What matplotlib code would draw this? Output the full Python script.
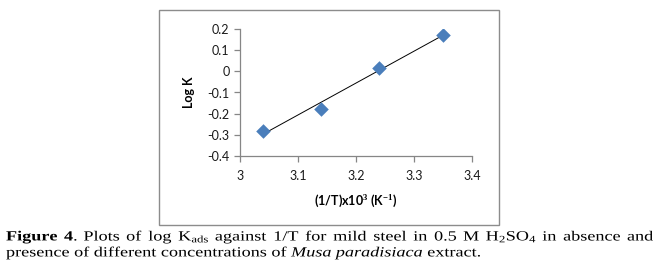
import matplotlib
matplotlib.use('Agg')
import matplotlib.pyplot as plt
from matplotlib.patches import Rectangle, PathPatch
from matplotlib.textpath import TextPath
from matplotlib.font_manager import FontProperties
from matplotlib.transforms import Affine2D
import numpy as np

# data
inv_temp = [3.04, 3.14, 3.24, 3.35]
log_k = [-0.28, -0.177, 0.018, 0.172]
x_ticks = [3.0, 3.1, 3.2, 3.3, 3.4]
y_ticks = [0.2, 0.1, 0.0, -0.1, -0.2, -0.3, -0.4]
y_tick_labels = ['0.2', '0.1', '0', '-0.1', '-0.2', '-0.3', '-0.4']
x_tick_labels = ['3', '3.1', '3.2', '3.3', '3.4']

caption_line1 = [r'$\mathbf{Figure}$', r'$\mathbf{4}$.', 'Plots', 'of', 'log', r'K$_{\mathrm{ads}}$',
                 'against', '1/T', 'for', 'mild', 'steel', 'in', '0.5', 'M', r'H$_2$SO$_4$',
                 'in', 'absence', 'and']
caption_line2 = r'presence of different concentrations of $\mathit{Musa\ paradisiaca}$ extract.'

W, H = 660, 277
plt.rcParams['mathtext.fontset'] = 'custom'
plt.rcParams['mathtext.rm'] = 'Liberation Serif'
plt.rcParams['mathtext.it'] = 'Liberation Serif:italic'
plt.rcParams['mathtext.bf'] = 'Liberation Serif:bold'

fig = plt.figure(figsize=(W / 100, H / 100), dpi=100)

# chart frame
fig.patches.append(Rectangle((159 / W, 1 - 225 / H), (499 - 159) / W, (225 - 10) / H,
                             transform=fig.transFigure, fill=False,
                             edgecolor='#8c8c8c', linewidth=1.0))

ax = fig.add_axes([240 / W, 1 - 156 / H, (472 - 240) / W, (156 - 29) / H])
ax.set_facecolor('none')

fit = np.polyfit(inv_temp, log_k, 1)
xs = np.array([min(inv_temp), max(inv_temp)])
ax.plot(xs, np.polyval(fit, xs), color='black', linewidth=0.7, zorder=2)
ax.scatter(inv_temp, log_k, marker='D', s=55, color='#4a7ebb', zorder=3, linewidths=0)

ax.set_xlim(3.0, 3.4)
ax.set_ylim(-0.4, 0.2)
ax.set_xticks(x_ticks)
ax.set_xticklabels(x_tick_labels)
ax.set_yticks(y_ticks)
ax.set_yticklabels(y_tick_labels)

for side in ['top', 'right']:
    ax.spines[side].set_visible(False)
for side in ['left', 'bottom']:
    ax.spines[side].set_color('#868686')
    ax.spines[side].set_linewidth(0.9)
ax.tick_params(axis='both', direction='out', length=4, width=0.9, color='#868686',
               labelsize=9, labelcolor='#1a1a1a')
ax.tick_params(axis='x', pad=6)
for lab in ax.get_xticklabels() + ax.get_yticklabels():
    lab.set_family('Lato')

ax.set_ylabel('Log K', fontsize=9, fontweight='bold', family='Lato', labelpad=9)
ax.set_xlabel('(1/T)x10$^\\mathbf{3}$ (K$^{\\mathbf{-1}}$)', fontsize=9, fontweight='bold',
              family='Lato', labelpad=8)

# caption: text drawn as paths so it can be stretched like the scanned original
prop = FontProperties(family='Liberation Serif')
size = 14.0
x_left = 6


def put_path(tp, x, y, sx):
    tr = Affine2D().scale(sx / W, 1 / H).translate(x / W, 1 - y / H) + fig.transFigure
    fig.patches.append(PathPatch(tp, transform=tr, facecolor='black', edgecolor='none', lw=0))


# line 2 sets the horizontal stretch
tp2 = TextPath((0, 0), caption_line2, size=size, prop=prop)
ext2 = tp2.get_extents()
sx = (480 - x_left) / ext2.x1
put_path(tp2, x_left, 256.5, sx)

# line 1 is justified to the right edge
paths = [TextPath((0, 0), w, size=size, prop=prop) for w in caption_line1]
widths = [p.get_extents().x1 * sx for p in paths]
gap = (653 - x_left - sum(widths)) / (len(paths) - 1)
x = x_left
for p, wd in zip(paths, widths):
    put_path(p, x, 240.5, sx)
    x += wd + gap

fig.savefig('out.png', dpi=100)
